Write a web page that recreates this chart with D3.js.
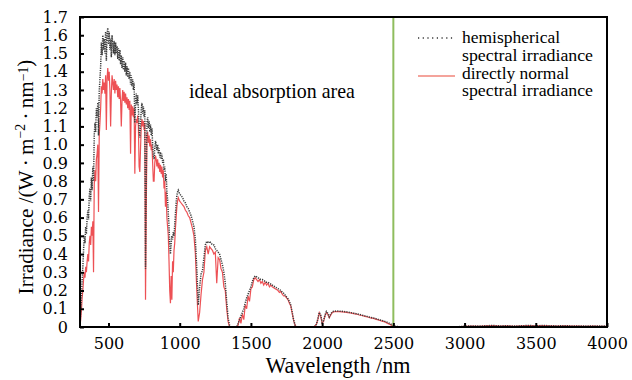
<!DOCTYPE html>
<html><head><meta charset="utf-8">
<script src="https://cdn.jsdelivr.net/npm/d3@7"></script>
<style>html,body{margin:0;padding:0;background:#fff;} svg{display:block;}</style>
</head><body>
<svg id="c" width="632" height="380"></svg>
<script>
// ---------- DATA ----------
const seriesNames = ["hemispherical spectral irradiance", "directly normal spectral irradiance"];
const yTickValues = [0,0.1,0.2,0.3,0.4,0.5,0.6,0.7,0.8,0.9,1.0,1.1,1.2,1.3,1.4,1.5,1.6,1.7];
const yTickLabels = ["0","0.1","0.2","0.3","0.4","0.5","0.6","0.7","0.8","0.9","1.0","1.1","1.2","1.3","1.4","1.5","1.6","1.7"];
const xTickValues = [500,1000,1500,2000,2500,3000,3500,4000];
const xTickLabels = ["500","1000","1500","2000","2500","3000","3500","4000"];
const markerWavelength = 2500;

// wavelengths (nm), segment 1: 300-1000
const wl1 = [300,305,310,315,320,325,330,335,340,345,
350,355,360,365,370,375,380,385,390,395,
400,405,410,415,420,425,430,435,440,445,
450,455,460,465,470,475,480,485,490,495,
500,505,510,515,520,525,530,535,540,545,
550,555,560,565,570,575,580,585,590,595,
600,605,610,615,620,625,630,635,640,645,
650,655,660,665,670,675,680,685,690,695,
700,705,710,715,720,725,730,735,740,745,
750,755,760,765,770,775,780,785,790,795,
800,805,810,815,820,825,830,835,840,845,
850,855,860,865,870,875,880,885,890,895,
900,905,910,915,920,925,930,935,940,945,
950,955,960,965,970,975,980,985,990,995,
1000];
const hemi1 = [0.03,0.08,0.16,0.26,0.33,0.42,0.50,0.46,0.55,0.51,
0.60,0.64,0.59,0.72,0.76,0.69,0.82,0.75,0.88,0.80,
1.05,1.12,1.07,1.20,1.15,1.23,1.05,1.29,1.36,1.43,
1.56,1.49,1.60,1.52,1.58,1.50,1.62,1.46,1.60,1.64,
1.55,1.62,1.52,1.58,1.48,1.60,1.55,1.50,1.57,1.49,
1.56,1.50,1.54,1.47,1.53,1.46,1.52,1.44,1.49,1.42,
1.48,1.41,1.46,1.40,1.45,1.38,1.43,1.37,1.42,1.36,
1.40,1.33,1.38,1.32,1.36,1.30,1.34,1.12,1.22,1.28,
1.22,1.27,1.20,1.08,1.04,1.12,1.19,1.23,1.17,1.21,
1.15,1.19,0.32,0.82,1.12,1.15,1.09,1.13,1.07,1.11,
1.05,1.09,1.00,0.94,0.92,0.98,1.02,1.00,0.97,1.00,
0.95,0.98,0.93,0.96,0.92,0.95,0.90,0.92,0.86,0.88,
0.80,0.84,0.74,0.70,0.62,0.55,0.45,0.40,0.46,0.50,
0.48,0.52,0.50,0.56,0.62,0.68,0.72,0.74,0.75,0.74,
0.73];
const direct1 = [0.01,0.04,0.09,0.16,0.20,0.26,0.30,0.27,0.33,0.30,
0.36,0.40,0.36,0.46,0.50,0.45,0.55,0.50,0.58,0.30,
0.78,0.86,0.80,0.92,0.95,1.00,0.63,1.05,1.12,1.20,
1.32,1.28,1.36,1.30,1.34,1.28,1.38,1.08,1.36,1.42,
1.35,1.40,1.30,1.10,1.28,1.38,1.34,1.30,1.36,1.28,
1.35,1.30,1.33,1.26,1.32,1.25,1.31,1.24,1.10,1.24,
1.30,1.24,1.29,1.23,1.28,1.22,1.26,1.20,1.25,1.19,
1.24,0.95,1.22,1.16,1.21,1.15,1.20,0.84,1.10,1.14,
1.12,1.16,1.10,0.88,0.85,0.98,1.10,1.14,1.10,1.13,
1.08,1.12,0.15,0.62,1.05,1.07,1.01,1.05,0.99,1.03,
0.97,1.00,0.90,0.80,0.80,0.90,0.94,0.92,0.88,0.92,
0.87,0.90,0.85,0.89,0.84,0.88,0.82,0.86,0.76,0.80,
0.66,0.74,0.60,0.55,0.50,0.36,0.20,0.13,0.28,0.15,
0.36,0.30,0.42,0.46,0.54,0.60,0.66,0.69,0.71,0.70,
0.69];

// segment 2: 1010-2100
const wl2 = [1010,1020,1030,1040,1050,1060,1070,1080,1090,1100,
1110,1120,1130,1140,1150,1160,1170,1180,1190,1200,
1210,1220,1230,1240,1250,1260,1270,1280,1290,1300,
1310,1320,1330,1340,1350,1360,1370,1380,1390,1400,
1410,1420,1430,1440,1450,1460,1470,1480,1490,1500,
1510,1520,1530,1540,1550,1560,1570,1580,1590,1600,
1610,1620,1630,1640,1650,1660,1670,1680,1690,1700,
1710,1720,1730,1740,1750,1760,1770,1780,1790,1800,
1810,1820,1830,1840,1850,1860,1870,1880,1890,1900,
1910,1920,1930,1940,1950,1960,1970,1980,1990,2000,
2010,2020,2030,2040,2050,2060,2070,2080,2090,2100];
const hemi2 = [0.72,0.71,0.69,0.68,0.66,0.65,0.63,0.61,0.58,0.55,
0.48,0.32,0.12,0.22,0.29,0.31,0.38,0.45,0.47,0.46,
0.47,0.46,0.45,0.45,0.43,0.42,0.41,0.40,0.37,0.34,
0.30,0.24,0.14,0.05,0.01,0,0,0,0,0,
0.02,0.04,0.06,0.08,0.10,0.13,0.16,0.18,0.20,0.22,
0.25,0.27,0.28,0.275,0.27,0.265,0.26,0.26,0.255,0.25,
0.245,0.245,0.24,0.235,0.23,0.225,0.22,0.215,0.21,0.205,
0.20,0.19,0.185,0.175,0.165,0.155,0.14,0.12,0.08,0.04,
0.01,0,0,0,0,0,0,0,0,0,
0,0,0,0,0.005,0.015,0.045,0.08,0.065,0.025,
0.035,0.065,0.085,0.075,0.055,0.07,0.082,0.086,0.087,0.088];
const direct2 = [0.68,0.67,0.66,0.64,0.63,0.61,0.60,0.57,0.54,0.50,
0.40,0.20,0.03,0.08,0.18,0.26,0.30,0.42,0.44,0.40,
0.44,0.43,0.42,0.40,0.41,0.24,0.38,0.37,0.32,0.30,
0.22,0.20,0.10,0.03,0,0,0,0,0,0,
0.01,0.05,0.02,0.07,0.04,0.12,0.10,0.17,0.14,0.21,
0.22,0.26,0.27,0.26,0.25,0.26,0.24,0.25,0.23,0.245,
0.23,0.24,0.22,0.23,0.22,0.215,0.21,0.205,0.20,0.19,
0.195,0.18,0.17,0.17,0.16,0.15,0.13,0.115,0.075,0.035,
0.01,0,0,0,0,0,0,0,0,0,
0,0,0,0,0.005,0.015,0.04,0.078,0.06,0.02,
0.03,0.06,0.08,0.07,0.05,0.065,0.078,0.083,0.084,0.085];

// segment 3: 2120-2500
const wl3 = [2120,2140,2160,2180,2200,2220,2240,2260,2280,2300,
2320,2340,2360,2380,2400,2420,2440,2460,2480,2500];
const hemi3 = [0.087,0.086,0.084,0.082,0.079,0.076,0.073,0.069,0.065,0.061,
0.057,0.053,0.049,0.045,0.040,0.036,0.031,0.025,0.017,0.005];
const direct3 = [0.084,0.083,0.082,0.079,0.077,0.073,0.071,0.066,0.063,0.058,
0.055,0.050,0.047,0.042,0.038,0.032,0.028,0.020,0.013,0.003];

// segment 4: 2550-4000
const wl4 = [2550,2600,2650,2700,2750,2800,2850,2900,2950,3000,
3050,3100,3150,3200,3250,3300,3350,3400,3450,3500,
3550,3600,3650,3700,3750,3800,3850,3900,3950,4000];
const hemi4 = [0.001,0,0,0,0,0,0,0,0.001,0.004,
0.006,0.005,0.007,0.008,0.006,0.007,0.005,0.007,0.008,0.007,
0.008,0.007,0.006,0.007,0.006,0.006,0.005,0.006,0.005,0.005];
const direct4 = [0.001,0,0,0,0,0,0,0,0.001,0.003,
0.005,0.004,0.006,0.007,0.005,0.006,0.004,0.006,0.007,0.006,
0.007,0.006,0.005,0.006,0.005,0.005,0.004,0.005,0.004,0.004];

const wavelength = wl1.concat(wl2, wl3, wl4);
const hemispherical = hemi1.concat(hemi2, hemi3, hemi4);
const directNormal = direct1.concat(direct2, direct3, direct4);

// ---------- CHART ----------
const L = 80, R = 607, T = 17, B = 327;
const svg = d3.select("#c");
const x = d3.scaleLinear().domain([300, 4000]).range([L, R]);
const y = d3.scaleLinear().domain([0, 1.7]).range([B, T]);
const numFont = "DejaVu Serif";
const txtFont = "Liberation Serif";

svg.append("clipPath").attr("id", "clip")
  .append("rect").attr("x", L).attr("y", T).attr("width", R - L).attr("height", B - T);

const line = d3.line().x((d, i) => x(wavelength[i])).y(d => y(d));

const plot = svg.append("g").attr("clip-path", "url(#clip)");
plot.append("path").datum(directNormal)
  .attr("d", line).attr("fill", "none")
  .attr("stroke", "#e8262a").attr("stroke-opacity", 0.8).attr("stroke-width", 1.2);
plot.append("path").datum(hemispherical)
  .attr("d", line).attr("fill", "none")
  .attr("stroke", "#3c3c3c").attr("stroke-width", 1.5).attr("stroke-dasharray", "1.2,1.1");

// marker line at 2500 nm
svg.append("line")
  .attr("x1", x(markerWavelength)).attr("x2", x(markerWavelength))
  .attr("y1", T).attr("y2", B)
  .attr("stroke", "#8fbd5e").attr("stroke-width", 2);

// axes
const yAxis = d3.axisLeft(y).tickValues(yTickValues)
  .tickFormat((d, i) => yTickLabels[i]).tickSize(-4).tickPadding(12);
const gy = svg.append("g").attr("transform", `translate(${L},0)`).call(yAxis);
const xAxis = d3.axisBottom(x).tickValues(xTickValues)
  .tickFormat((d, i) => xTickLabels[i]).tickSize(-4).tickPadding(11);
const gx = svg.append("g").attr("transform", `translate(0,${B})`).call(xAxis);
[gx, gy].forEach(g => {
  g.select(".domain").remove();
  g.selectAll(".tick line").attr("stroke", "#000").attr("stroke-width", 2);
  g.selectAll(".tick text").attr("font-family", numFont).attr("font-size", 16).attr("fill", "#000");
});

// frame
svg.append("rect").attr("x", L).attr("y", T).attr("width", R - L).attr("height", B - T)
  .attr("fill", "none").attr("stroke", "#000").attr("stroke-width", 2);

function fit(sel, target) {
  const w = sel.node().getComputedTextLength();
  const fs = parseFloat(sel.attr("font-size"));
  sel.attr("font-size", fs * target / w);
}

// axis titles
const xt = svg.append("text").attr("x", 338).attr("y", 373).attr("text-anchor", "middle")
  .attr("font-family", txtFont).attr("font-size", 19).text("Wavelength /nm");
fit(xt, 145);

const yt = svg.append("text").attr("transform", "translate(33,177) rotate(-90)")
  .attr("text-anchor", "middle").attr("font-family", txtFont).attr("font-size", 19);
yt.append("tspan").text("Irradiance /(W\u2009\u00b7\u2009m");
yt.append("tspan").attr("font-size", "0.65em").attr("dy", "-0.55em").text("\u22122");
yt.append("tspan").attr("dy", "0.35em").text("\u2009\u00b7\u2009nm");
yt.append("tspan").attr("font-size", "0.65em").attr("dy", "-0.35em").text("\u22121");
yt.append("tspan").attr("dy", "0.2em").text(")");
fit(yt, 235);

// annotation
const ann = svg.append("text").attr("x", 189).attr("y", 98)
  .attr("font-family", txtFont).attr("font-size", 17).text("ideal absorption area");
fit(ann, 166);

// legend
const lx1 = 418, lx2 = 455, tx = 462;
svg.append("line").attr("x1", lx1).attr("x2", lx2).attr("y1", 38).attr("y2", 38)
  .attr("stroke", "#333").attr("stroke-width", 1.3).attr("stroke-dasharray", "1.2,3.5");
svg.append("line").attr("x1", lx1).attr("x2", lx2).attr("y1", 76).attr("y2", 76)
  .attr("stroke", "#f0857a").attr("stroke-width", 1.3);
const legRows = [
  {t: "hemispherical", y: 43, w: 98},
  {t: "spectral irradiance", y: 61, w: 131},
  {t: "directly normal", y: 79, w: 107},
  {t: "spectral irradiance", y: 96, w: 131}
];
legRows.forEach(r => {
  svg.append("text").attr("x", tx).attr("y", r.y)
    .attr("font-family", txtFont).attr("font-size", 16)
    .attr("textLength", r.w).attr("lengthAdjust", "spacingAndGlyphs")
    .text(r.t);
});
</script>
</body></html>
